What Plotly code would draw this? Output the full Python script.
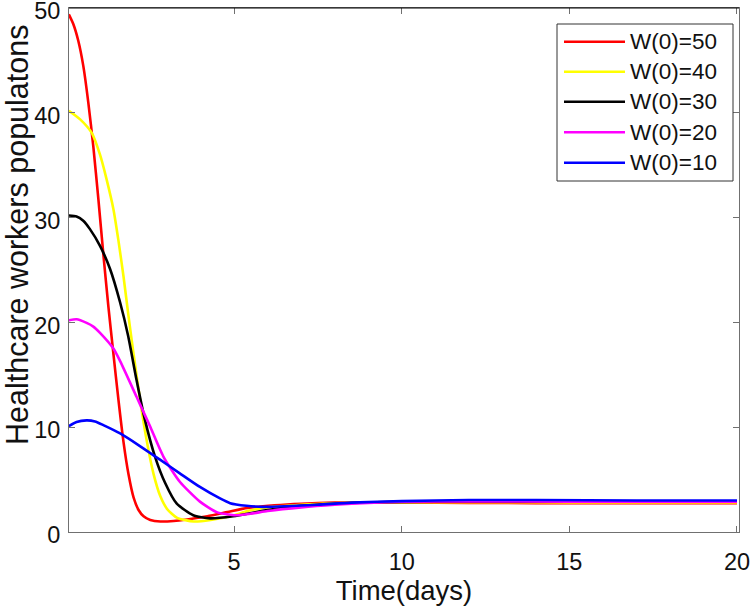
import plotly.graph_objects as go

# ---- data ----
labels = ["W(0)=50", "W(0)=40", "W(0)=30", "W(0)=20", "W(0)=10"]
colors = ["#ff0000", "#ffff00", "#000000", "#ff00ff", "#0000ff"]

t_w50 = [0.07, 0.2, 0.35, 0.5, 0.65, 0.8, 0.95, 1.1, 1.25, 1.4, 1.55, 1.7, 1.85, 2.0, 2.15, 2.3,
         2.5, 2.8, 3.2, 3.6, 4.2, 4.8, 5.4, 6.2, 7.0, 8.0, 9.0, 10, 12, 14, 17, 20]
w50 = [49.4, 48.5, 46.9, 44.5, 41.0, 36.8, 31.8, 26.5, 21.5, 17.0, 12.6, 8.6, 5.5, 3.3, 2.1, 1.5,
       1.15, 1.0, 1.05, 1.2, 1.5, 1.9, 2.3, 2.55, 2.7, 2.8, 2.82, 2.82, 2.78, 2.76, 2.76, 2.76]

t_w40 = [0.07, 0.4, 0.75, 1.0, 1.2, 1.4, 1.55, 1.7, 1.85, 2.0, 2.2, 2.4, 2.6, 2.8, 3.0, 3.3, 3.8,
         4.3, 5.0, 5.4, 6.0, 7.0, 8.0, 9.0, 10, 12, 15, 20]
w40 = [40.2, 39.4, 38.1, 36.0, 33.6, 30.8, 27.8, 24.4, 20.6, 17.0, 12.5, 8.6, 5.5, 3.4, 2.2, 1.35,
       1.0, 1.15, 1.6, 2.0, 2.35, 2.6, 2.75, 2.82, 2.85, 2.85, 2.82, 2.82]

t_w30 = [0.07, 0.3, 0.5, 0.7, 1.0, 1.3, 1.6, 1.84, 2.09, 2.34, 2.64, 2.94, 3.29, 3.78, 4.28, 4.97,
         6.0, 7.0, 8.0, 9.0, 10, 12, 15, 20]
w30 = [30.2, 30.1, 29.7, 28.9, 27.3, 25.1, 21.9, 18.7, 14.5, 10.7, 7.2, 4.7, 2.7, 1.6, 1.3, 1.5,
       2.1, 2.5, 2.7, 2.82, 2.87, 2.9, 2.88, 2.88]

t_w20 = [0.07, 0.3, 0.6, 0.8, 1.0, 1.4, 1.6, 2.09, 2.49, 2.89, 3.38, 3.98, 4.48, 5.0, 5.5,
         6.0, 7.0, 8.0, 9.0, 10, 12, 15, 20]
w20 = [20.2, 20.3, 19.95, 19.6, 19.0, 17.5, 16.3, 12.9, 10.1, 7.2, 4.8, 2.9, 1.9, 1.6, 1.75,
       2.0, 2.35, 2.6, 2.78, 2.88, 2.92, 2.9, 2.88]

t_w10 = [0.07, 0.3, 0.6, 0.85, 1.1, 1.6, 2.19, 2.79, 3.38, 3.98, 4.58, 4.88, 5.37, 5.87, 6.5,
         7.5, 8.5, 10, 12, 14, 17, 20]
w10 = [10.1, 10.5, 10.65, 10.55, 10.2, 9.4, 8.2, 6.9, 5.6, 4.3, 3.2, 2.75, 2.5, 2.4, 2.45,
       2.6, 2.8, 2.95, 3.05, 3.05, 3.0, 3.0]

x_ticks = [5, 10, 15, 20]
y_ticks = [0, 10, 20, 30, 40, 50]
x_title = "Time(days)"
y_title = "Healthcare workers populatons"

series_t = [t_w50, t_w40, t_w30, t_w20, t_w10]
series_y = [w50, w40, w30, w20, w10]

FONT = "Liberation Sans, Arial, Helvetica, sans-serif"
AX = "#707070"
TXT = "#111111"

fig = go.Figure()
for tt, yy, name, col in zip(series_t, series_y, labels, colors):
    fig.add_trace(go.Scatter(x=tt, y=yy, mode="lines", name=name,
                             line=dict(color=col, width=2.6, shape="spline", smoothing=0.6),
                             showlegend=False))

# plot area in pixels
W, H = 750, 609
L, R, T, B = 69, 739, 8, 532

fig.update_layout(
    width=W, height=H,
    margin=dict(l=L, r=W - R, t=T, b=H - B, pad=0, autoexpand=False),
    paper_bgcolor="white", plot_bgcolor="white",
    font=dict(family=FONT, color=TXT),
)
fig.update_xaxes(range=[0.075, 20.06], tickvals=x_ticks, ticks="inside", ticklen=6,
                 tickcolor=AX, tickwidth=1, showline=True, linecolor=AX, linewidth=1,
                 mirror="ticks", showgrid=False, zeroline=False, automargin=False,
                 ticklabeloverflow="allow", ticklabelstandoff=9,
                 tickfont=dict(size=23.5, family=FONT, color=TXT),
                 title=dict(text=x_title, font=dict(size=27.5, family=FONT, color=TXT),
                            standoff=4))
fig.update_yaxes(range=[0, 50], tickvals=y_ticks, ticks="inside", ticklen=6,
                 tickcolor=AX, tickwidth=1, showline=True, linecolor=AX, linewidth=1,
                 mirror="ticks", showgrid=False, zeroline=False, automargin=False,
                 ticklabeloverflow="allow", ticklabelstandoff=3, ticklabelshift=3,
                 tickfont=dict(size=23.5, family=FONT, color=TXT))

# top border darker (as in reference)
fig.add_shape(type="line", xref="paper", yref="paper", x0=0, x1=1, y0=1, y1=1,
              line=dict(color="black", width=1))


def px2x(px):
    return (px - L) / (R - L)


def py2y(py):
    return (B - py) / (B - T)


# y title as annotation (centered slightly above axis middle, as in reference)
fig.add_annotation(text=y_title, xref="paper", yref="paper", x=px2x(18), y=py2y(235),
                   textangle=-90, showarrow=False, xanchor="center", yanchor="middle",
                   font=dict(size=30.5, family=FONT, color=TXT))

# legend box (drawn to match the MATLAB look)
fig.add_shape(type="rect", xref="paper", yref="paper",
              x0=px2x(557), x1=px2x(733), y0=py2y(181), y1=py2y(24),
              line=dict(color="#333333", width=1), fillcolor="white", layer="above")
rows = [41.7, 71.7, 101.7, 132.3, 162.7]
for ry, name, col in zip(rows, labels, colors):
    fig.add_shape(type="line", xref="paper", yref="paper",
                  x0=px2x(564), x1=px2x(625), y0=py2y(ry), y1=py2y(ry),
                  line=dict(color=col, width=2.6), layer="above")
    fig.add_annotation(text=name, xref="paper", yref="paper", x=px2x(628), y=py2y(ry),
                       xanchor="left", yanchor="middle", showarrow=False,
                       font=dict(size=22.5, family=FONT, color=TXT))

fig.write_html("out.html", config={"displayModeBar": False},
               post_script="document.body.style.margin='0';document.body.style.overflow='hidden';")
